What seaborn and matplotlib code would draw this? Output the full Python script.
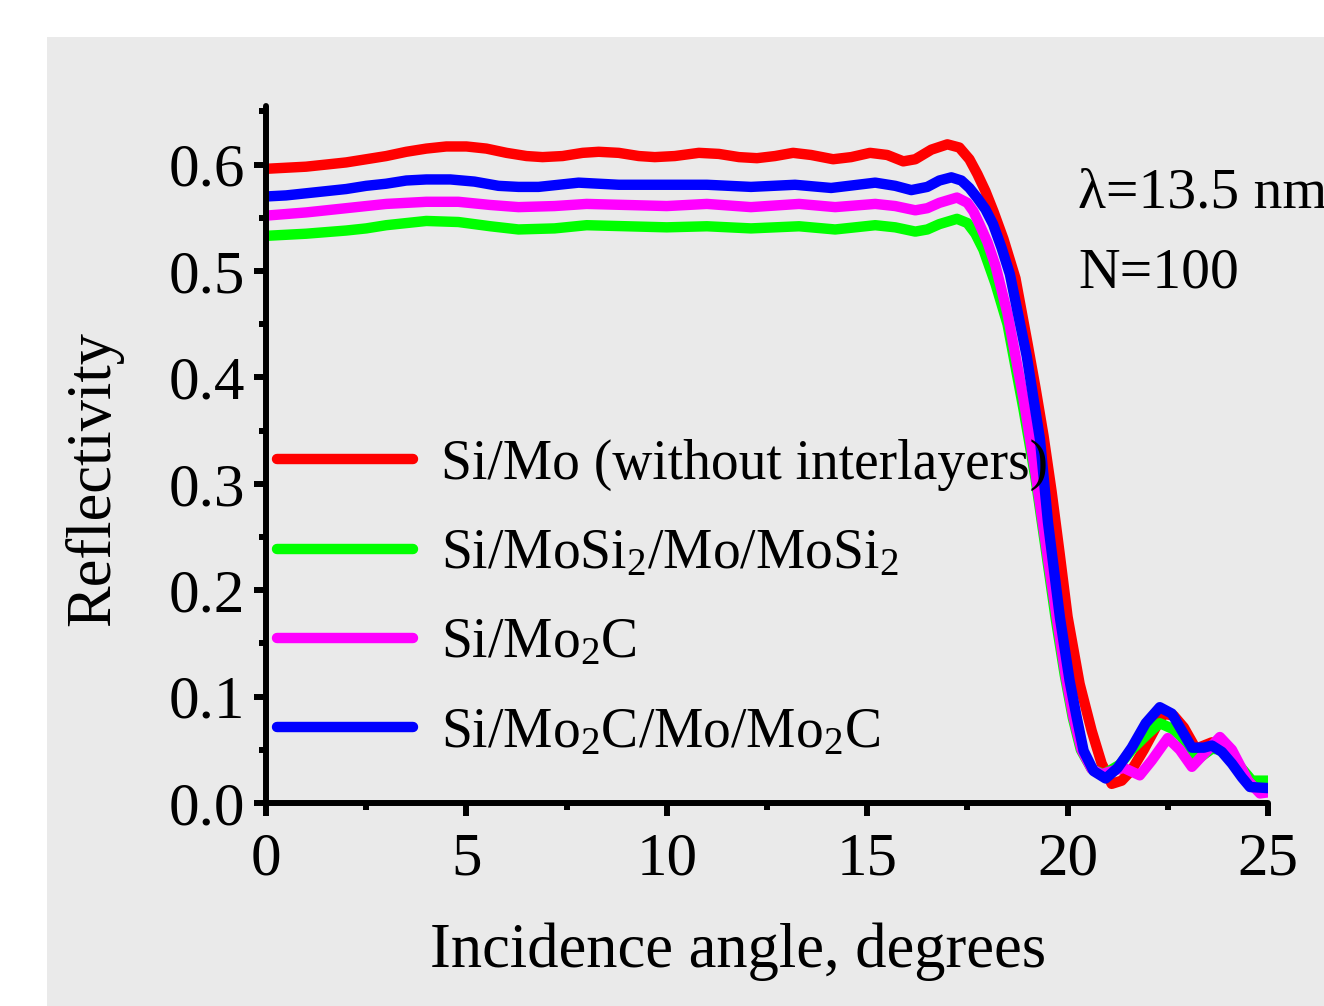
import numpy as np
import pandas as pd
import seaborn as sns
import matplotlib.pyplot as plt
from matplotlib.patches import Rectangle
from matplotlib.ticker import MultipleLocator, FormatStrFormatter

# Si/Mo (without interlayers)
ang_simo = [0, 0.5, 1, 1.5, 2, 2.5, 3, 3.5, 4, 4.5, 5, 5.5, 6, 6.5, 6.9, 7.4, 7.9, 8.3, 8.8,
            9.3, 9.7, 10.2, 10.8, 11.3, 11.8, 12.25, 12.7, 13.15, 13.6, 14.15, 14.6, 15.07,
            15.5, 15.9, 16.2, 16.6, 17.0, 17.3, 17.55, 17.75, 17.95, 18.15, 18.4, 18.7, 19.0,
            19.2, 19.4, 19.6, 19.8, 20.0, 20.3, 20.6, 20.85, 21.1, 21.35, 21.6, 21.9, 22.2,
            22.4, 22.65, 22.9, 23.2, 23.6, 23.85, 24.1, 24.35, 24.6, 25]
ref_simo = [0.596, 0.597, 0.598, 0.600, 0.602, 0.605, 0.608, 0.612, 0.615, 0.617, 0.617, 0.615,
            0.611, 0.608, 0.607, 0.608, 0.611, 0.612, 0.611, 0.608, 0.607, 0.608, 0.611, 0.610,
            0.607, 0.606, 0.608, 0.611, 0.609, 0.605, 0.607, 0.611, 0.609, 0.603, 0.605, 0.614,
            0.619, 0.616, 0.605, 0.591, 0.575, 0.556, 0.530, 0.493, 0.432, 0.390, 0.345, 0.293,
            0.235, 0.175, 0.112, 0.068, 0.037, 0.018, 0.021, 0.031, 0.050, 0.071, 0.084, 0.082,
            0.071, 0.051, 0.057, 0.052, 0.040, 0.027, 0.015, 0.014]

# Si/MoSi2/Mo/MoSi2
ang_mosi2 = [0, 1, 2, 2.5, 3, 3.5, 4, 4.8, 5.6, 6.3, 7.2, 8.0, 9.0, 10, 11, 12.1, 13.3, 14.2,
             15.2, 15.7, 16.2, 16.5, 16.8, 17.24, 17.5, 17.7, 17.9, 18.2, 18.5, 18.9, 19.2,
             19.43, 19.7, 19.93, 20.13, 20.33, 20.6, 20.9, 21.3, 21.6, 22.0, 22.3, 22.6,
             22.85, 23.2, 23.6, 23.85, 24.1, 24.4, 24.6, 25]
ref_mosi2 = [0.533, 0.535, 0.538, 0.540, 0.543, 0.545, 0.547, 0.546, 0.542, 0.539, 0.540, 0.543,
             0.542, 0.541, 0.542, 0.540, 0.542, 0.539, 0.543, 0.541, 0.537, 0.539, 0.544, 0.549,
             0.545, 0.535, 0.520, 0.488, 0.450, 0.370, 0.305, 0.245, 0.174, 0.120, 0.080, 0.050,
             0.032, 0.027, 0.036, 0.050, 0.065, 0.075, 0.070, 0.062, 0.040, 0.051, 0.050, 0.043,
             0.030, 0.021, 0.021]

# Si/Mo2C
ang_mo2c = [0, 1, 2, 2.5, 3, 3.5, 4, 4.8, 5.6, 6.3, 7.2, 8.0, 9.0, 10, 11, 12.1, 13.3, 14.2,
            15.2, 15.7, 16.2, 16.5, 16.8, 17.24, 17.5, 17.65, 17.8, 18.0, 18.2, 18.5, 18.9,
            19.2, 19.45, 19.73, 19.95, 20.15, 20.35, 20.6, 20.85, 21.1, 21.4, 21.8, 22.1, 22.5,
            22.8, 23.1, 23.45, 23.8, 24.1, 24.5, 24.8, 25]
ref_mo2c = [0.552, 0.555, 0.559, 0.561, 0.563, 0.564, 0.565, 0.565, 0.562, 0.560, 0.561, 0.563,
            0.562, 0.561, 0.563, 0.560, 0.563, 0.560, 0.563, 0.561, 0.557, 0.559, 0.564, 0.569,
            0.564, 0.556, 0.544, 0.527, 0.505, 0.460, 0.380, 0.310, 0.245, 0.174, 0.120, 0.080,
            0.050, 0.032, 0.027, 0.030, 0.033, 0.026, 0.040, 0.061, 0.050, 0.034, 0.048, 0.062,
            0.050, 0.021, 0.009, 0.010]

# Si/Mo2C/Mo/Mo2C
ang_mo2c_mo = [0, 0.5, 1, 1.5, 2, 2.5, 3, 3.5, 4, 4.6, 5.2, 5.8, 6.3, 6.8, 7.3, 7.8, 8.3, 8.8,
               10, 11, 12.1, 13.2, 14.1, 15.2, 15.7, 16.1, 16.5, 16.8, 17.1, 17.35, 17.55,
               17.74, 17.95, 18.14, 18.35, 18.56, 18.98, 19.31, 19.51, 19.81, 20.05, 20.23,
               20.4, 20.65, 20.95, 21.25, 21.6, 21.95, 22.3, 22.6, 22.85, 23.1, 23.4, 23.6,
               23.85, 24.1, 24.35, 24.55, 25]
ref_mo2c_mo = [0.570, 0.571, 0.573, 0.575, 0.577, 0.580, 0.582, 0.585, 0.586, 0.586, 0.584,
               0.580, 0.579, 0.579, 0.581, 0.583, 0.582, 0.581, 0.581, 0.581, 0.579, 0.581,
               0.578, 0.583, 0.580, 0.576, 0.579, 0.585, 0.588, 0.585, 0.578, 0.569, 0.558,
               0.544, 0.522, 0.497, 0.420, 0.342, 0.264, 0.174, 0.115, 0.080, 0.049, 0.030,
               0.023, 0.033, 0.052, 0.075, 0.090, 0.084, 0.068, 0.052, 0.052, 0.054, 0.048,
               0.037, 0.024, 0.015, 0.014]

labels = ['Si/Mo (without interlayers)',
          r'Si/MoSi$_\mathrm{2}$/Mo/MoSi$_\mathrm{2}$',
          r'Si/Mo$_\mathrm{2}$C',
          r'Si/Mo$_\mathrm{2}$C/Mo/Mo$_\mathrm{2}$C']
colors = ['#FF0000', '#00FF00', '#FF00FF', '#0000FF']

frames = []
for lab, a, r in zip(labels,
                     [ang_simo, ang_mosi2, ang_mo2c, ang_mo2c_mo],
                     [ref_simo, ref_mosi2, ref_mo2c, ref_mo2c_mo]):
    frames.append(pd.DataFrame({'angle': a, 'refl': r, 'sample': lab}))
df = pd.concat(frames, ignore_index=True)

sns.set_style('ticks')
plt.rcParams['font.family'] = ['Liberation Serif', 'DejaVu Serif']
plt.rcParams['mathtext.fontset'] = 'custom'
plt.rcParams['mathtext.rm'] = 'Liberation Serif'
plt.rcParams['mathtext.it'] = 'Liberation Serif:italic'
for k in ['text.color', 'axes.labelcolor', 'axes.edgecolor', 'xtick.color', 'ytick.color']:
    plt.rcParams[k] = 'black'

bg = '#EAEAEA'
fig = plt.figure(figsize=(13.24, 10.06), dpi=100, facecolor='white')
fig.patches.append(Rectangle((47 / 1324, 0), 1, 1 - 37 / 1006, transform=fig.transFigure,
                             facecolor=bg, edgecolor='none', zorder=-10))
ax = fig.add_axes([0.2009, 0.2018, 0.7568, 0.6928])
ax.set_facecolor(bg)

sns.lineplot(data=df, x='angle', y='refl', hue='sample', hue_order=labels,
             palette=colors, estimator=None, sort=False, lw=7.5, ax=ax,
             solid_capstyle='round', solid_joinstyle='round')

ax.set_xlim(0, 25)
ax.set_ylim(0, 0.655)
ax.xaxis.set_major_locator(MultipleLocator(5))
ax.xaxis.set_minor_locator(MultipleLocator(2.5))
ax.yaxis.set_major_locator(MultipleLocator(0.1))
ax.yaxis.set_minor_locator(MultipleLocator(0.05))
ax.yaxis.set_major_formatter(FormatStrFormatter('%.1f'))
ax.tick_params(which='major', direction='out', length=9, width=4.3, labelsize=44)
ax.tick_params(axis='x', which='major', pad=12)
ax.tick_params(axis='y', which='major', pad=6)
ax.tick_params(which='minor', direction='out', length=5, width=4.3)
for s in ['top', 'right']:
    ax.spines[s].set_visible(False)
for s in ['left', 'bottom']:
    ax.spines[s].set_linewidth(4.3)
    ax.spines[s].set_capstyle('round')

ax.set_xlabel('Incidence angle, degrees', fontsize=45)
ax.set_ylabel('Reflectivity', fontsize=45)
ax.xaxis.set_label_coords(0.471, -0.172)
ax.yaxis.set_label_coords(-0.142, 0.466)

leg = ax.legend(loc='center left', bbox_to_anchor=(0.0, 0.293), frameon=False,
                fontsize=40, handlelength=2.45, handletextpad=0.5, labelspacing=0.67,
                borderpad=0, borderaxespad=0.2)
for h in leg.get_lines():
    h.set_linewidth(7.5)
    h.set_solid_capstyle('round')

fig.text(1078 / 1324, 1 - 193 / 1006, 'λ=13.5 nm', fontsize=41.5, va='center', ha='left')
fig.text(1078 / 1324, 1 - 273 / 1006, 'N=100', fontsize=41.5, va='center', ha='left')

fig.savefig('out.png', dpi=100, facecolor='white')
